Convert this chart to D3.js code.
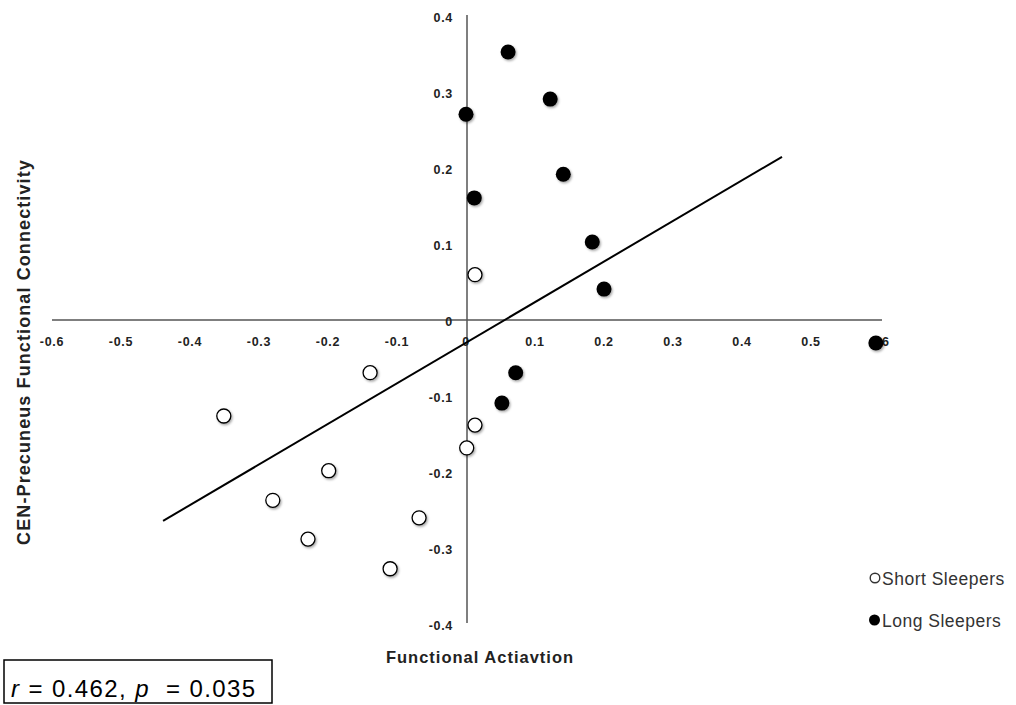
<!DOCTYPE html>
<html><head><meta charset="utf-8">
<script src="https://cdn.jsdelivr.net/npm/d3@7/dist/d3.min.js"></script>
<style>body{margin:0;background:#fff}svg{display:block}</style>
</head><body>
<svg id="chart" width="1016" height="705"></svg>
<script>
// Data
const xTicks = [-0.6,-0.5,-0.4,-0.3,-0.2,-0.1,0,0.1,0.2,0.3,0.4,0.5,0.6];
const yTicks = [-0.4,-0.3,-0.2,-0.1,0,0.1,0.2,0.3,0.4];
const shortX = [0.013, 0.013, 0.001, -0.068, -0.139, -0.351, -0.199, -0.280, -0.229, -0.110];
const shortY = [0.061, -0.137, -0.167, -0.259, -0.068, -0.125, -0.197, -0.236, -0.287, -0.326];
const longX = [0.061, 0.122, 0.000, 0.141, 0.012, 0.183, 0.200, 0.594, 0.072, 0.052];
const longY = [0.354, 0.292, 0.272, 0.193, 0.162, 0.104, 0.042, -0.029, -0.068, -0.108];
const fitX = [-0.439, 0.458];
const fitY = [-0.263, 0.216];
const legendLabels = ["Short Sleepers", "Long Sleepers"];

const svg = d3.select("#chart");
const x = d3.scaleLinear().domain([-0.6, 0.6]).range([52, 880]);
const y = d3.scaleLinear().domain([-0.4, 0.4]).range([625, 17]);

const defs = svg.append("defs");
const f = defs.append("filter").attr("id","sh").attr("x","-50%").attr("y","-50%").attr("width","200%").attr("height","200%");
f.append("feDropShadow").attr("dx",1.2).attr("dy",1.5).attr("stdDeviation",1.2).attr("flood-color","#000").attr("flood-opacity",0.35);

const font = "Arial, 'Liberation Sans', sans-serif";
const axColor = "#555";
const y0 = 320, x0 = 467;
const fmt = d => d===0 ? "0" : d3.format(".1f")(d).replace("\u2212","-");

// horizontal axis
svg.append("line").attr("x1",52).attr("x2",882).attr("y1",y0).attr("y2",y0)
  .attr("stroke",axColor).attr("stroke-width",1.5);
// vertical axis
svg.append("line").attr("x1",x0).attr("x2",x0).attr("y1",15).attr("y2",623)
  .attr("stroke",axColor).attr("stroke-width",1.5);

// x tick labels
svg.append("g").selectAll("text").data(xTicks).join("text")
  .attr("x",d=>x(d)).attr("y",346).attr("text-anchor","middle")
  .attr("font-family",font).attr("font-weight","bold").attr("font-size",12.5)
  .attr("letter-spacing",0.7).attr("fill","#222")
  .text(fmt);
// y tick labels
svg.append("g").selectAll("text").data(yTicks).join("text")
  .attr("x",453).attr("y",d=>y(d)+4.5).attr("text-anchor","end")
  .attr("font-family",font).attr("font-weight","bold").attr("font-size",12.5)
  .attr("letter-spacing",0.7).attr("fill","#222")
  .text(fmt);

// regression line
svg.append("line").attr("x1",x(fitX[0])).attr("y1",y(fitY[0])).attr("x2",x(fitX[1])).attr("y2",y(fitY[1]))
  .attr("stroke","#000").attr("stroke-width",2);

// points
const shortPts = shortX.map((v,i)=>[v,shortY[i]]);
const longPts = longX.map((v,i)=>[v,longY[i]]);
svg.append("g").selectAll("circle").data(shortPts).join("circle")
  .attr("cx",d=>x(d[0])).attr("cy",d=>y(d[1])).attr("r",7)
  .attr("fill","#fff").attr("stroke","#000").attr("stroke-width",1.3).attr("filter","url(#sh)");
svg.append("g").selectAll("circle").data(longPts).join("circle")
  .attr("cx",d=>x(d[0])).attr("cy",d=>y(d[1])).attr("r",7.5)
  .attr("fill","#000").attr("filter","url(#sh)");

// axis titles
svg.append("text").attr("x",480).attr("y",663).attr("text-anchor","middle")
  .attr("font-family",font).attr("font-weight","bold").attr("font-size",16.5)
  .attr("letter-spacing",1).attr("fill","#222")
  .text("Functional Actiavtion");
svg.append("text").attr("transform","translate(30,352) rotate(-90)").attr("text-anchor","middle")
  .attr("font-family",font).attr("font-weight","bold").attr("font-size",18)
  .attr("letter-spacing",1.1).attr("fill","#222")
  .text("CEN-Precuneus Functional Connectivity");

// legend
const lg = svg.append("g");
lg.append("circle").attr("cx",875).attr("cy",578).attr("r",4.8).attr("fill","#fff").attr("stroke","#333").attr("stroke-width",1.4);
lg.append("circle").attr("cx",874.5).attr("cy",620).attr("r",5.5).attr("fill","#000");
lg.selectAll("text").data(legendLabels).join("text")
  .attr("x",882).attr("y",(d,i)=>585+i*42)
  .attr("font-family",font).attr("font-size",17.5).attr("letter-spacing",0.5).attr("fill","#333").text(d=>d);

// stats box
svg.append("rect").attr("x",4).attr("y",660).attr("width",268).attr("height",43)
  .attr("fill","#fff").attr("stroke","#000").attr("stroke-width",1.5);
const t = svg.append("text").attr("x",11).attr("y",697).attr("font-family",font).attr("font-size",24)
  .attr("letter-spacing",1.4).attr("fill","#000").style("white-space","pre");
t.append("tspan").attr("font-style","italic").text("r");
t.append("tspan").text(" = 0.462, ");
t.append("tspan").attr("font-style","italic").text("p");
t.append("tspan").text("  = 0.035");
</script>
</body></html>
